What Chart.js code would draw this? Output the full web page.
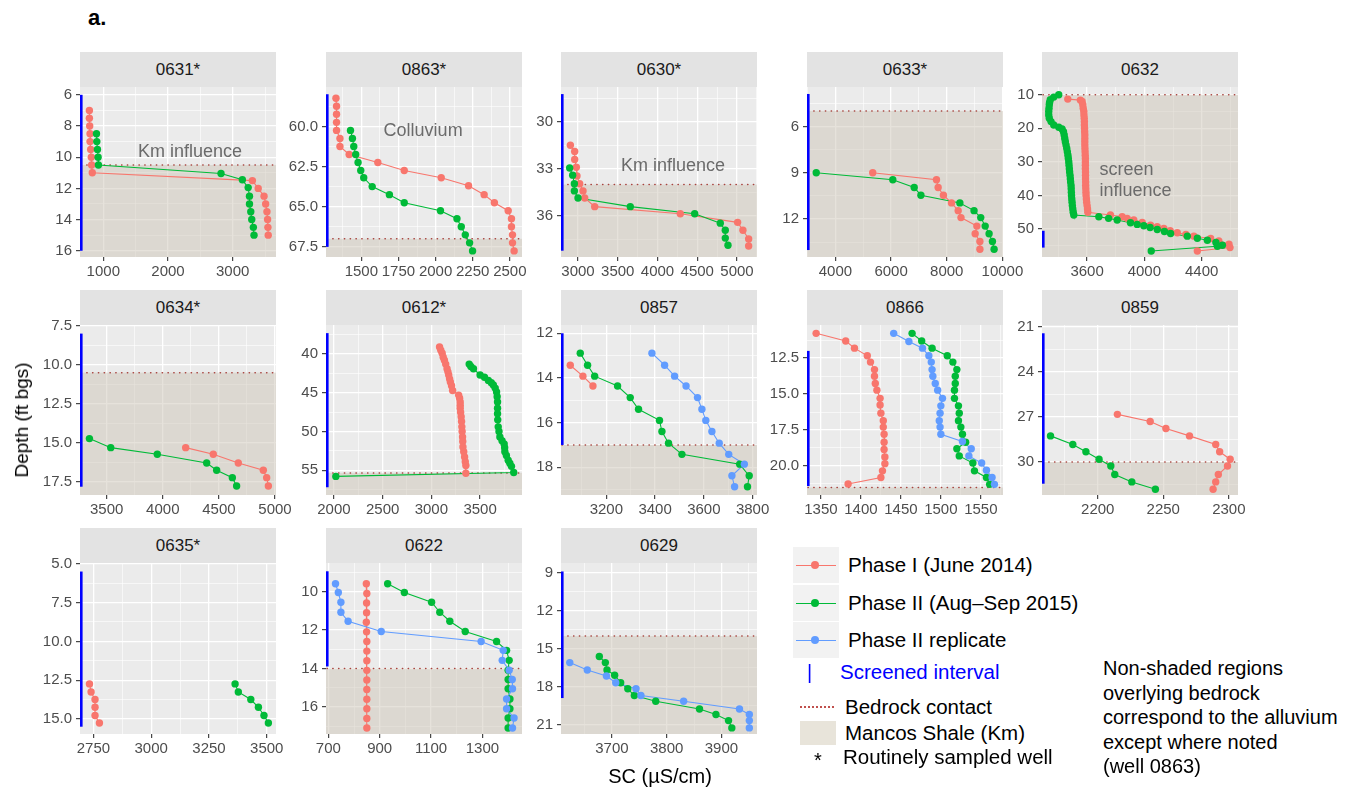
<!DOCTYPE html>
<html>
<head>
<meta charset="utf-8">
<script src="https://cdn.jsdelivr.net/npm/chart.js@4.4.1/dist/chart.umd.min.js"></script>
<style>
  body { margin: 0; background: #fff; font-family: "Liberation Sans", Arial, sans-serif; }
  #page { position: relative; width: 1357px; height: 792px; overflow: hidden; background: #fff; }
  .strip { position: absolute; background: #E3E3E3; color: #1A1A1A; font-size: 17px; text-align: center; height: 35px; line-height: 35px; }
  canvas { position: absolute; }
  .txt { position: absolute; white-space: nowrap; transform: translateY(-50%); }
</style>
</head>
<body>
<div id="page"></div>
<script>
"use strict";

var RED = "#F8766D", GREEN = "#00BA38", BLUE = "#619CFF";
var FONT = "'Liberation Sans', Arial, sans-serif";

// panel order, left to right, top to bottom
var wells = ["0631*", "0863*", "0630*", "0633*", "0632",
             "0634*", "0612*", "0857", "0866", "0859",
             "0635*", "0622", "0629"];

// [SC (uS/cm), depth (ft bgs)] -- I = June 2014, II = Aug-Sep 2015, R = phase II replicate
var w0631_I = [[785,7],[785,7.5],[790,8],[795,8.5],[795,9],[805,9.5],[815,10],[820,10.5],[830,11],
  [3305,11.5],[3395,12],[3485,12.5],[3510,13],[3530,13.5],[3540,14],[3545,14.5],[3550,15]];
var w0631_II = [[895,8.5],[900,9],[910,9.5],[920,10],[925,10.5],[2820,11.05],[3150,11.45],[3240,11.95],
  [3260,12.5],[3260,13],[3280,13.5],[3295,14],[3320,14.5],[3330,15]];

var w0863_I = [[1329,58.25],[1333,58.75],[1333,59.25],[1333,59.75],[1333,60.25],[1356,60.75],[1356,61.25],
  [1418,61.75],[1611,62.25],[1789,62.75],[2038,63.2],[2222,63.7],[2327,64.25],[2396,64.75],[2489,65.25],
  [2511,65.75],[2511,66.25],[2518,66.75],[2518,67.25],[2529,67.75]];
var w0863_II = [[1427,60.25],[1440,60.75],[1449,61.25],[1462,61.75],[1478,62.25],[1496,62.75],[1516,63.2],
  [1573,63.75],[1689,64.25],[1789,64.75],[2033,65.25],[2144,65.75],[2173,66.25],[2200,66.75],[2229,67.25],[2249,67.75]];

var w0630_I = [[2904,31.5],[2958,31.9],[2958,32.4],[2979,32.9],[2987,33.45],[3021,33.95],[3063,34.4],
  [3084,34.85],[3210,35.4],[4287,35.85],[5008,36.4],[5075,36.9],[5147,37.45],[5147,37.9]];
var w0630_II = [[2895,32.95],[2933,33.4],[2954,33.95],[2954,34.4],[3000,34.85],[3658,35.4],[4468,35.85],
  [4790,36.45],[4853,36.9],[4853,37.4],[4887,37.85]];

var w0633_I = [[5340,9],[7630,9.45],[7690,9.95],[7880,10.45],[8170,10.95],[8410,11.45],[8510,11.9],
  [9080,12.45],[9020,12.95],[9190,13.45],[9190,13.95]];
var w0633_II = [[3310,9],[6060,9.45],[6830,9.95],[7070,10.45],[8470,10.95],[8980,11.45],[9220,11.9],
  [9380,12.45],[9520,12.95],[9640,13.45],[9700,13.95]];

var w0632_I = [[3465,11.3],[3553,11.6],[3565,12],[3570,13],[3573,14],[3577,15],[3578,16],[3580,17],[3581,18],
  [3581,19],[3582,20],[3583,21],[3584,22],[3584,23],[3584,24],[3584,25],[3585,26],[3586,27],[3587,28],
  [3588,29],[3588,30],[3588,31],[3588,32],[3589,33],[3589,34],[3589,35],[3590,36],[3590,37],[3591,38],
  [3592,39],[3593,40],[3595,41],[3597,42],[3600,43],[3603,44],[3605,45],[3763,45.8],[3845,46.3],[3880,46.8],
  [3926,47.3],[3985,48],[4043,48.8],[4090,49.3],[4136,49.8],[4180,50.5],[4230,51.1],[4290,51.6],[4346,52.1],
  [4463,52.8],[4520,53.5],[4591,54.5],[4598,55.5],[4370,56.5]];
var w0632_II = [[3402,10],[3367,10.7],[3343,11.5],[3338,12.3],[3336,13],[3334,14],[3332,15],[3332,16],
  [3336,17],[3348,18],[3367,19],[3402,19.7],[3425,20.2],[3435,21],[3440,22],[3444,23],[3448,24],[3453,25],
  [3458,26],[3462,27],[3466,28],[3469,29],[3472,30],[3474,31],[3476,32],[3478,33],[3481,34],[3483,35],
  [3485,36],[3488,37],[3489,38],[3490,39],[3491,40],[3493,41],[3495,42],[3497,43],[3500,44],[3503,45],
  [3507,45.8],[3682,46.3],[3750,46.8],[3810,47.3],[3903,48.1],[3950,48.6],[3996,49],[4040,49.5],[4090,50.1],
  [4140,50.7],[4183,51.3],[4300,52.1],[4370,52.7],[4440,53.3],[4500,54],[4545,54.8],[4510,55.1],[4048,56.5]];

var w0634_I = [[4204,15.3],[4450,15.72],[4673,16.28],[4896,16.75],[4926,17.22],[4941,17.75]];
var w0634_II = [[3346,14.72],[3536,15.3],[3951,15.72],[4391,16.28],[4480,16.75],[4620,17.22],[4658,17.75]];

var w0612_I = [[3084,39.1],[3097,39.5],[3111,39.9],[3122,40.4],[3134,40.8],[3147,41.3],[3161,41.9],
  [3170,42.3],[3178,42.7],[3187,43.2],[3195,43.6],[3207,44.1],[3218,44.7],[3280,45.3],[3290,45.7],
  [3296,46.2],[3296,46.6],[3296,47],[3300,47.5],[3306,48.1],[3310,48.7],[3313,49.4],[3316,50],[3320,50.7],
  [3322,51.3],[3324,52],[3332,52.6],[3341,53.3],[3348,53.9],[3354,54.4],[3354,55.4]];
var w0612_II = [[3388,41.3],[3405,41.6],[3432,41.9],[3500,42.7],[3545,43],[3585,43.4],[3615,43.7],
  [3636,44],[3655,44.4],[3669,44.9],[3675,45.5],[3679,46.2],[3679,47],[3679,47.7],[3681,48.5],[3686,49.4],
  [3694,50],[3703,50.7],[3725,51.2],[3747,51.6],[3752,52.1],[3754,52.6],[3770,53.1],[3788,53.7],
  [3805,54.1],[3822,54.5],[3845,55.3],[2020,55.8]];

var w0857_I = [[3052,13.43],[3104,13.92],[3145,14.36]];
var w0857_II = [[3093,12.89],[3123,13.43],[3152,13.92],[3246,14.36],[3298,14.88],[3332,15.4],[3418,15.9],
  [3428,16.4],[3455,16.92],[3510,17.42],[3747,17.86],[3786,18.38],[3779,18.87]];
var w0857_R = [[3387,12.89],[3439,13.43],[3480,13.92],[3527,14.36],[3574,14.88],[3592,15.4],[3608,15.9],
  [3633,16.4],[3663,16.92],[3702,17.42],[3766,17.86],[3715,18.38],[3726,18.87]];

var w0866_I = [[1344,10.78],[1381,11.31],[1392,11.81],[1408,12.34],[1412,12.78],[1417,13.3],[1417,13.76],
  [1418,14.27],[1420,14.73],[1424,15.3],[1424,15.76],[1425,16.33],[1428,16.85],[1428,17.3],[1429,17.8],
  [1429,18.35],[1429,18.85],[1430,19.38],[1430,19.84],[1427,20.34],[1425,20.8],[1384,21.26]];
var w0866_II = [[1464,10.78],[1476,11.31],[1489,11.81],[1508,12.34],[1515,12.78],[1520,13.3],[1518,13.76],
  [1518,14.27],[1517,14.73],[1517,15.3],[1522,15.82],[1523,16.33],[1522,16.85],[1525,17.3],[1527,17.8],
  [1531,18.35],[1520,18.8],[1523,19.3],[1540,19.8],[1542,20.34],[1557,20.8],[1561,21.28]];
var w0866_R = [[1441,10.78],[1460,11.35],[1477,11.81],[1485,12.34],[1488,12.78],[1489,13.3],[1490,13.76],
  [1493,14.27],[1496,14.73],[1502,15.3],[1500,15.82],[1499,16.33],[1498,16.85],[1499,17.3],[1500,17.8],
  [1527,18.3],[1538,18.8],[1535,19.3],[1551,19.8],[1557,20.3],[1564,20.8],[1567,21.28]];

var w0859_I = [[2215,26.84],[2240,27.31],[2252,27.78],[2270,28.27],[2290,28.84],[2293,29.33],[2301,29.82],
  [2299,30.27],[2292,30.84],[2290,31.33],[2288,31.82]];
var w0859_II = [[2164,28.27],[2181,28.84],[2191,29.33],[2201,29.82],[2210,30.27],[2213,30.84],[2226,31.33],[2244,31.82]];

var w0635_I = [[2733,12.74],[2740,13.26],[2757,13.75],[2757,14.25],[2757,14.78],[2776,15.26]];
var w0635_II = [[3363,12.74],[3377,13.26],[3431,13.75],[3464,14.25],[3488,14.78],[3507,15.26]];

var w0622_I = [[848,9.6],[850,10.1],[849,10.6],[849,11.1],[848,11.6],[849,12.1],[850,12.6],[850,13.1],
  [850,13.6],[850,14.1],[850,14.6],[850,15.1],[850,15.6],[850,16.1],[850,16.6],[850,17.1]];
var w0622_II = [[931,9.6],[996,10.05],[1102,10.56],[1134,11.08],[1173,11.55],[1233,12.08],[1355,12.6],
  [1394,13.06],[1404,13.58],[1400,14.09],[1400,14.58],[1400,15.06],[1407,15.59],[1407,16.1],[1400,16.58],[1400,17.1]];
var w0622_R = [[728,9.6],[739,10.05],[749,10.56],[749,11.08],[777,11.55],[906,12.08],[1295,12.6],
  [1381,13.06],[1377,13.58],[1404,14.09],[1416,14.58],[1417,15.06],[1394,15.59],[1394,16.1],[1423,16.58],[1417,17.1]];

var w0629_II = [[3677,15.62],[3688,16.1],[3691,16.68],[3705,17.1],[3716,17.69],[3729,18.17],[3741,18.7],
  [3780,19.15],[3860,19.76],[3890,20.2],[3913,20.68],[3919,21.26]];
var w0629_R = [[3623,16.1],[3655,16.68],[3690,17.16],[3707,17.69],[3744,18.17],[3753,18.7],[3831,19.15],
  [3933,19.76],[3951,20.2],[3951,20.68],[3951,21.26]];

var series = [
  [w0631_I, w0631_II, null], [w0863_I, w0863_II, null], [w0630_I, w0630_II, null],
  [w0633_I, w0633_II, null], [w0632_I, w0632_II, null], [w0634_I, w0634_II, null],
  [w0612_I, w0612_II, null], [w0857_I, w0857_II, w0857_R], [w0866_I, w0866_II, w0866_R],
  [w0859_I, w0859_II, null], [w0635_I, w0635_II, null], [w0622_I, w0622_II, w0622_R],
  [null, w0629_II, w0629_R]
];

// bedrock contact depth and screened interval (ft bgs)
var bedrock = [10.5, 67.0, 34, 5, 10, 10.5, 55.35, 17, 21.5, 30, null, 14, 14];
var screens = [[6,16],[58,67.5],[28.25,38.2],[3.9,14],[50.5,55.5],[8,17.8],[37.3,57.2],
  [12,17],[12,21.4],[21.45,31.45],[5.5,15.5],[8.95,13.9],[8.9,18.9]];

// axis limits / break spacing (free scales)
var xLimits = [[640,3670],[1262,2582],[2786,5252],[2978,10020],[3285,4654],[3262,5009],[1919,3930],
  [3014,3818],[1332.6,1577.7],[2157.5,2307],[2692,3540],[691,1454],[3607,3965]];
var xBreaks = [1000, 250, 500, 2000, 400, 500, 500, 200, 50, 50, 250, 200, 100];
var xOffset = [0, 0, 0, 0, 0, 0, 0, 0, 0, 0, 0, 100, 0];
var yLimits = [[5.5,16.4],[57.55,68.13],[27.8,38.6],[3.45,14.45],[7.7,58.3],[7.45,18.33],[36.25,58.2],
  [11.63,19.24],[10.2,22.02],[20.9,32.2],[4.95,15.97],[8.52,17.41],[8.23,21.74]];
var yBreaks = [2, 2.5, 3, 3, 10, 2.5, 5, 2, 2.5, 3, 2.5, 2, 3];
var yDigits = [0, 1, 0, 0, 0, 1, 0, 0, 1, 0, 1, 0, 0];

// text annotations inside panels
var notes = [
  { panel: 0, text: "Km influence", sc: 2340, depth: 9.64, align: "center" },
  { panel: 1, text: "Colluvium", sc: 1916, depth: 60.3, align: "center" },
  { panel: 2, text: "Km influence", sc: 4195, depth: 32.83, align: "center" },
  { panel: 4, text: "screen", sc: 3686, depth: 32.4, align: "left" },
  { panel: 4, text: "influence", sc: 3686, depth: 38.6, align: "left" }
];

var colLeft = [80, 326, 561, 807, 1042];
var rowTop = [87, 325, 563];
var rowH = [170, 170, 171];
var PW = 196;
var PL = 60, PT = 12, PR = 26, PB = 32;

var page = document.getElementById("page");

function txt(s, x, y, size, color, extra) {
  var d = document.createElement("div");
  d.className = "txt";
  d.textContent = s;
  d.style.left = x + "px";
  d.style.top = y + "px";
  d.style.fontSize = size + "px";
  d.style.color = color || "#000";
  if (extra) for (var k in extra) d.style[k] = extra[k];
  page.appendChild(d);
  return d;
}

function isMajor(v, step, off) {
  var r = (v - off) / step;
  return Math.abs(r - Math.round(r)) < 1e-6;
}

function makeTicks(lo, hi, step, off) {
  var out = [];
  var n0 = Math.ceil((lo - off) / step - 1e-9), n1 = Math.floor((hi - off) / step + 1e-9);
  for (var n = n0; n <= n1; n++) out.push({ value: Math.round((off + n * step) * 1000) / 1000 });
  return out;
}

function axis(limits, step, off, digits, horiz) {
  return {
    type: "linear",
    bounds: "data",
    min: limits[0],
    max: limits[1],
    reverse: !horiz,
    afterBuildTicks: function(s) { s.ticks = makeTicks(limits[0], limits[1], step / 2, off); },
    afterFit: function(s) {
      if (horiz) { s.height = PB; s.paddingLeft = 0; s.paddingRight = 0; }
      else { s.width = PL; s.paddingTop = 0; s.paddingBottom = 0; }
    },
    grid: {
      color: "#FFFFFF",
      lineWidth: function(c) { return c.tick && isMajor(c.tick.value, step, off) ? 1.3 : 0.6; },
      tickLength: 4,
      tickWidth: 1.1,
      tickColor: function(c) { return c.tick && isMajor(c.tick.value, step, off) ? "#333333" : "rgba(0,0,0,0)"; }
    },
    border: { display: false },
    ticks: {
      autoSkip: false, maxRotation: 0, minRotation: 0,
      padding: horiz ? 2 : 4,
      color: "#4D4D4D",
      font: { family: FONT, size: 15 },
      callback: function(v) { return isMajor(v, step, off) ? Number(v).toFixed(digits) : ""; }
    }
  };
}

function decor(i) {
  return {
    id: "decor" + i,
    beforeDraw: function(chart) {
      var a = chart.chartArea, c = chart.ctx;
      c.save();
      c.fillStyle = "#EBEBEB";
      c.fillRect(a.left, a.top, a.right - a.left, a.bottom - a.top);
      c.restore();
    },
    beforeDatasetsDraw: function(chart) {
      var a = chart.chartArea, c = chart.ctx, xs = chart.scales.x, ys = chart.scales.y;
      c.save();
      if (bedrock[i] !== null) {
        var yb = ys.getPixelForValue(bedrock[i]);
        var top = Math.max(yb, a.top);
        c.fillStyle = "rgba(205,198,184,0.5)";
        c.fillRect(a.left, top, a.right - a.left, a.bottom - top);
        c.strokeStyle = "#A8443F";
        c.lineWidth = 1.5;
        c.lineCap = "round";
        c.setLineDash([0.3, 5.5]);
        c.beginPath();
        c.moveTo(a.left + 1, yb);
        c.lineTo(a.right, yb);
        c.stroke();
      }
      c.setLineDash([]);
      c.lineCap = "butt";
      c.strokeStyle = "#0000FF";
      c.lineWidth = 2.6;
      c.beginPath();
      c.moveTo(a.left + 1.3, ys.getPixelForValue(screens[i][0]));
      c.lineTo(a.left + 1.3, ys.getPixelForValue(screens[i][1]));
      c.stroke();
      c.fillStyle = "#6B6B6B";
      c.font = "18px " + FONT;
      c.textBaseline = "middle";
      notes.forEach(function(n) {
        if (n.panel !== i) return;
        c.textAlign = n.align;
        c.fillText(n.text, xs.getPixelForValue(n.sc), ys.getPixelForValue(n.depth));
      });
      c.restore();
    }
  };
}

function toXY(arr) {
  return arr.map(function(p) { return { x: p[0], y: p[1] }; });
}

function panel(i) {
  var col = i % 5, row = Math.floor(i / 5);
  var L = colLeft[col], T = rowTop[row], H = rowH[row];

  var strip = document.createElement("div");
  strip.className = "strip";
  strip.textContent = wells[i];
  strip.style.left = L + "px";
  strip.style.top = (T - 35) + "px";
  strip.style.width = PW + "px";
  page.appendChild(strip);

  var cv = document.createElement("canvas");
  cv.width = PL + PW + PR;
  cv.height = PT + H + PB;
  cv.style.left = (L - PL) + "px";
  cv.style.top = (T - PT) + "px";
  page.appendChild(cv);

  var colors = [RED, GREEN, BLUE];
  var sets = [];
  var k;
  // all points above all paths, later groups on top
  for (k = 2; k >= 0; k--) {
    if (!series[i][k]) continue;
    sets.push({ data: toXY(series[i][k]), showLine: false, pointRadius: 3.7, pointBorderWidth: 0,
      pointBackgroundColor: colors[k], backgroundColor: colors[k], clip: false });
  }
  for (k = 2; k >= 0; k--) {
    if (!series[i][k]) continue;
    sets.push({ data: toXY(series[i][k]), showLine: true, pointRadius: 0, borderColor: colors[k],
      borderWidth: 1.1, clip: false });
  }

  new Chart(cv, {
    type: "scatter",
    data: { datasets: sets },
    options: {
      responsive: false,
      animation: false,
      devicePixelRatio: 1,
      events: [],
      layout: { padding: { left: 0, top: PT, right: PR, bottom: 0 } },
      plugins: { legend: { display: false }, tooltip: { enabled: false } },
      scales: {
        x: axis(xLimits[i], xBreaks[i], xOffset[i], 0, true),
        y: axis(yLimits[i], yBreaks[i], 0, yDigits[i], false)
      }
    },
    plugins: [decor(i)]
  });
}

for (var i = 0; i < wells.length; i++) panel(i);

// titles
txt("a.", 88, 18, 22, "#000", { fontWeight: "bold" });
txt("SC (µS/cm)", 660, 776, 20, "#000", { transform: "translate(-50%,-50%)" });
txt("Depth (ft bgs)", 22, 420, 19, "#000", { transform: "translate(-50%,-50%) rotate(-90deg)" });

// legend
var keyLabels = ["Phase I (June 2014)", "Phase II (Aug–Sep 2015)", "Phase II replicate"];
var keyColors = [RED, GREEN, BLUE];
var keyTops = [547, 585, 622];
keyLabels.forEach(function(lab, j) {
  var box = document.createElement("div");
  box.style.cssText = "position:absolute;left:793px;width:46px;height:36px;background:#F2F2F2;top:" + keyTops[j] + "px";
  var ln = document.createElement("div");
  ln.style.cssText = "position:absolute;left:3px;width:40px;top:17.5px;height:1.2px;background:" + keyColors[j];
  var pt = document.createElement("div");
  pt.style.cssText = "position:absolute;left:18px;top:14px;width:8px;height:8px;border-radius:50%;background:" + keyColors[j];
  box.appendChild(ln);
  box.appendChild(pt);
  page.appendChild(box);
  txt(lab, 848, keyTops[j] + 18, 20.5);
});

txt("|", 807, 672, 20, "#0000FF");
txt("Screened interval", 840, 672, 20.5, "#0000FF");

var dots = document.createElement("div");
dots.style.cssText = "position:absolute;left:800px;top:706px;width:34px;height:0;border-top:2px dotted #C0504D";
page.appendChild(dots);
txt("Bedrock contact", 845, 707, 20.5);

var sw = document.createElement("div");
sw.style.cssText = "position:absolute;left:800px;top:721px;width:36px;height:24px;background:#E8E4DA";
page.appendChild(sw);
txt("Mancos Shale (Km)", 845, 733, 20.5);

txt("*", 814, 760, 20);
txt("Routinely sampled well", 843, 757, 20.5);

var noteLines = ["Non-shaded regions", "overlying bedrock", "correspond to the alluvium", "except where noted", "(well 0863)"];
noteLines.forEach(function(s, j) { txt(s, 1103, 668 + j * 24.6, 20); });
</script>
</body>
</html>
